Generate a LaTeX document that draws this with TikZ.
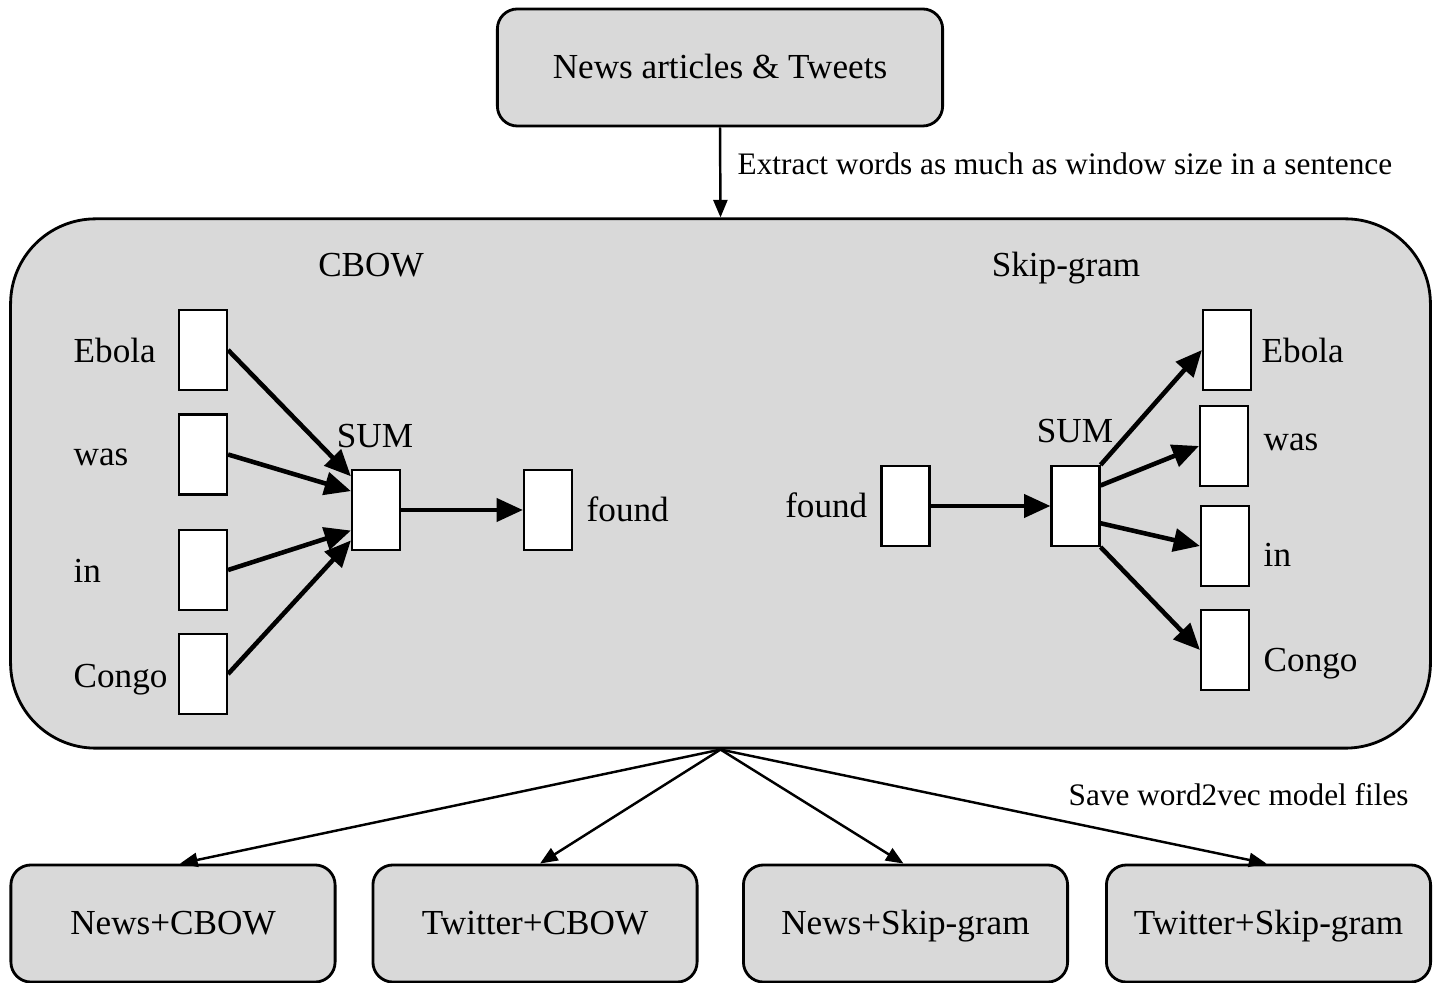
\documentclass[tikz,border=0pt]{standalone}
\usepackage{fontspec}
\setmainfont{Liberation Serif}
\usetikzlibrary{arrows.meta,calc}
\definecolor{boxgray}{RGB}{217,217,217}
\begin{document}
\begin{tikzpicture}[x=0.01cm,y=-0.01cm,
  panel/.style={draw=black,line width=0.8pt,fill=boxgray,rounded corners=0.2cm,inner sep=0pt,font=\fontsize{10}{12}\selectfont,text height=8pt,text depth=2pt},
  vec/.style={draw=black,line width=0.6pt,fill=white,minimum width=0.48cm,minimum height=0.8cm,inner sep=0pt},
  lbl/.style={font=\fontsize{10}{12}\selectfont,inner sep=0pt,text height=8pt,text depth=2pt},
  small/.style={font=\fontsize{8.9}{11}\selectfont,inner sep=0pt,text height=7pt,text depth=2pt},
  thinarrow/.style={line width=0.7pt,-{Triangle[length=5pt,width=4pt]}},
  thickarrow/.style={line width=1.3pt,-{Triangle[length=7.5pt,width=6.5pt]}}]
\useasboundingbox (0,0) rectangle (1437,983);
% source
\node[panel,minimum width=4.45cm,minimum height=1.17cm] (src) at (720,67.5) {News articles \& Tweets};
% big model box
\node[panel,rounded corners=0.85cm,minimum width=14.19cm,minimum height=5.29cm] (model) at (720.5,483.5) {};
\draw[thinarrow] (src.south) -- (model.north);
\node[small,anchor=west] (extract) at (737,166) {Extract words as much as window size in a sentence};
% titles
\node[lbl] (cbow) at (371,266) {CBOW};
\node[lbl] (skip) at (1066,266) {Skip-gram};
% CBOW
\node[vec] (ce) at (203,350) {};
\node[vec] (cw) at (203,454.5) {};
\node[vec] (ci) at (203,570) {};
\node[vec] (cc) at (203,674) {};
\node[vec] (cs) at (376,510) {};
\node[vec] (cf) at (548,510) {};
\node[lbl,anchor=west] (tce) at (73,352) {Ebola};
\node[lbl,anchor=west] (tcw) at (73,455) {was};
\node[lbl,anchor=west] (tci) at (73,572) {in};
\node[lbl,anchor=west] (tcc) at (73,677) {Congo};
\node[lbl] (tcs) at (375,437) {SUM};
\node[lbl,anchor=west] (tcf) at (586,511) {found};
\draw[thickarrow] (ce.east) -- ($(cs.north west)!0.09!(cs.south west)$);
\draw[thickarrow] (cw.east) -- ($(cs.north west)!0.27!(cs.south west)$);
\draw[thickarrow] (ci.east) -- ($(cs.north west)!0.75!(cs.south west)$);
\draw[thickarrow] (cc.east) -- ($(cs.north west)!0.87!(cs.south west)$);
\draw[thickarrow] (cs.east) -- (cf.west);
% Skip-gram
\node[vec] (sf) at (905.5,506) {};
\node[vec] (ss) at (1075.5,506) {};
\node[vec] (se) at (1227,350) {};
\node[vec] (sw) at (1224,446) {};
\node[vec] (si) at (1225,546) {};
\node[vec] (sc) at (1225,650) {};
\node[lbl,anchor=east] (tsf) at (868,507) {found};
\node[lbl] (tss) at (1075,432) {SUM};
\node[lbl,anchor=west] (tse) at (1261,352) {Ebola};
\node[lbl,anchor=west] (tsw) at (1263,440) {was};
\node[lbl,anchor=west] (tsi) at (1263,556) {in};
\node[lbl,anchor=west] (tsc) at (1263,661) {Congo};
\draw[thickarrow] (sf.east) -- (ss.west);
\draw[thickarrow] (ss.north east) -- (se.west);
\draw[thickarrow] ($(ss.north east)!0.25!(ss.south east)$) -- (sw.west);
\draw[thickarrow] ($(ss.north east)!0.71!(ss.south east)$) -- (si.west);
\draw[thickarrow] (ss.south east) -- (sc.west);
% outputs
\node[panel,minimum width=3.24cm,minimum height=1.17cm] (o1) at (173,923.5) {News+CBOW};
\node[panel,minimum width=3.24cm,minimum height=1.17cm] (o2) at (535,923.5) {Twitter+CBOW};
\node[panel,minimum width=3.24cm,minimum height=1.17cm] (o3) at (905.5,923.5) {News+Skip-gram};
\node[panel,minimum width=3.24cm,minimum height=1.17cm] (o4) at (1268.5,923.5) {Twitter+Skip-gram};
\draw[thinarrow] (model.south) -- ([xshift=0.07cm]o1.north);
\draw[thinarrow] (model.south) -- ([xshift=0.05cm]o2.north);
\draw[thinarrow] (model.south) -- ([xshift=-0.02cm]o3.north);
\draw[thinarrow] (model.south) -- ([xshift=-0.02cm]o4.north);
\node[small,anchor=west] (save) at (1068,797) {Save word2vec model files};
\end{tikzpicture}
\end{document}
